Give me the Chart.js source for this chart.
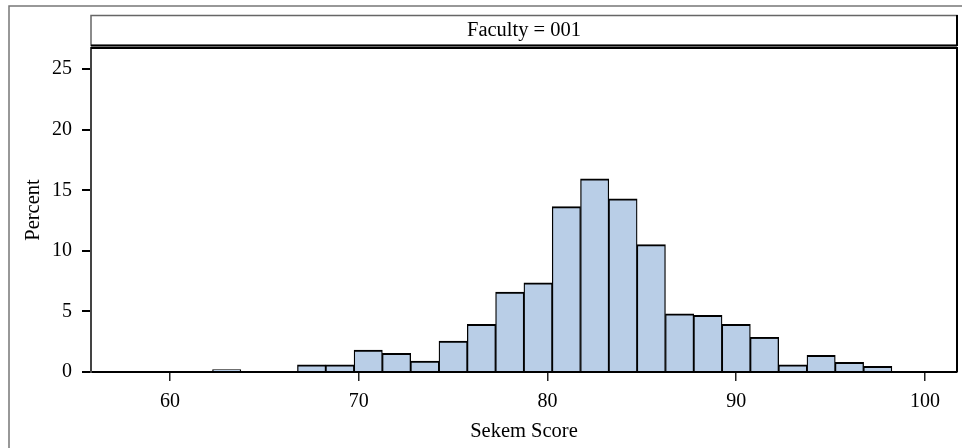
<!DOCTYPE html>
<html>
<head>
<meta charset="utf-8">
<script src="https://cdn.jsdelivr.net/npm/chart.js@4"></script>
<style>
  html, body { margin: 0; padding: 0; background: #fff; }
  #wrap { width: 962px; height: 448px; position: relative; }
</style>
</head>
<body>
<div id="wrap"><canvas id="histChart"></canvas></div>
<script>
'use strict';

// --- data (bin midpoints, bin width 1.5) ---
const BIN_MIDS = [63, 67.5, 69, 70.5, 72, 73.5, 75, 76.5, 78, 79.5, 81, 82.5, 84, 85.5, 87, 88.5, 90, 91.5, 93, 94.5, 96, 97.5];
const PERCENTS = [0.2, 0.6, 0.6, 1.82, 1.54, 0.91, 2.56, 3.94, 6.6, 7.37, 13.65, 15.94, 14.29, 10.51, 4.81, 4.68, 3.94, 2.87, 0.6, 1.38, 0.8, 0.47];
const X_TICKS = [60, 70, 80, 90, 100];
const Y_TICKS = [0, 5, 10, 15, 20, 25];
const PANEL_TITLE = 'Faculty = 001';

const FAMILY = '"Liberation Serif", "Times New Roman", serif';
const FONT = { family: FAMILY, size: 20 };
const TITLE_FONT = { family: FAMILY, size: 20.5 };

// frame, header strip and plot wall
const framePlugin = {
  id: 'frame',
  beforeDraw(chart) {
    const { ctx, chartArea: a } = chart;
    ctx.save();
    ctx.fillStyle = '#fff';
    ctx.fillRect(0, 0, chart.width, chart.height);
    // outer border
    ctx.strokeStyle = '#777';
    ctx.lineWidth = 1.5;
    ctx.beginPath();
    ctx.moveTo(9, chart.height);
    ctx.lineTo(9, 6);
    ctx.lineTo(chart.width, 6);
    ctx.stroke();
    // header strip
    ctx.strokeStyle = '#666';
    ctx.lineWidth = 1.5;
    ctx.strokeRect(a.left, 15.5, a.right - a.left, 30);
    ctx.strokeStyle = '#000';
    ctx.lineWidth = 2;
    ctx.beginPath();
    ctx.moveTo(a.left, 45.5);
    ctx.lineTo(a.right, 45.5);
    ctx.moveTo(a.right, 15);
    ctx.lineTo(a.right, 46);
    ctx.stroke();
    ctx.fillStyle = '#000';
    ctx.font = TITLE_FONT.size + 'px ' + FAMILY;
    ctx.textAlign = 'center';
    ctx.textBaseline = 'middle';
    ctx.fillText(PANEL_TITLE, (a.left + a.right) / 2, 30.5);
    ctx.restore();
  },
  afterDraw(chart) {
    const { ctx, chartArea: a } = chart;
    ctx.save();
    ctx.strokeStyle = '#000';
    ctx.lineWidth = 2;
    ctx.beginPath();
    ctx.moveTo(a.left, a.top);
    ctx.lineTo(a.right, a.top);
    ctx.lineTo(a.right, a.bottom);
    ctx.stroke();
    ctx.restore();
  },
};

const c1 = document.getElementById('histChart');
new Chart(c1.getContext('2d'), {
  type: 'bar',
  data: {
    datasets: [{
      label: 'Percent',
      data: BIN_MIDS.map((x, i) => ({ x: x, y: PERCENTS[i] })),
      backgroundColor: '#b9cee7',
      borderColor: '#000',
      borderWidth: { top: 2, left: 1.3, right: 1.3, bottom: 0 },
      barPercentage: 1,
      categoryPercentage: 1,
    }],
  },
  options: {
    responsive: true,
    maintainAspectRatio: false,
    animation: false,
    layout: { padding: { left: 0, top: 48, right: 5, bottom: 0 } },
    plugins: { legend: { display: false }, tooltip: { enabled: false } },
    scales: {
      x: {
        type: 'linear',
        offset: false,
        min: 55.81,
        max: 101.7,
        afterFit: s => { s.height = 76; },
        afterBuildTicks: s => { s.ticks = X_TICKS.map(v => ({ value: v })); },
        border: { display: true, color: '#000', width: 2 },
        grid: { offset: false, drawOnChartArea: false, drawTicks: true, tickLength: 9, tickColor: '#222', lineWidth: 1.5 },
        ticks: { color: '#000', font: FONT, padding: 9, maxRotation: 0 },
        title: { display: true, text: 'Sekem Score', color: '#000', font: TITLE_FONT, padding: { top: 0, bottom: 4 } },
      },
      y: {
        min: 0,
        max: 26.75,
        afterFit: s => { s.width = 91; },
        afterBuildTicks: s => { s.ticks = Y_TICKS.map(v => ({ value: v })); },
        border: { display: true, color: '#444', width: 2 },
        grid: { drawOnChartArea: false, drawTicks: true, tickLength: 9, tickColor: '#000', lineWidth: 2 },
        ticks: { color: '#000', font: FONT, padding: 10 },
        title: { display: true, text: 'Percent', color: '#000', font: TITLE_FONT, padding: { top: 21, bottom: 0 } },
      },
    },
  },
  plugins: [framePlugin],
});
</script>
</body>
</html>
